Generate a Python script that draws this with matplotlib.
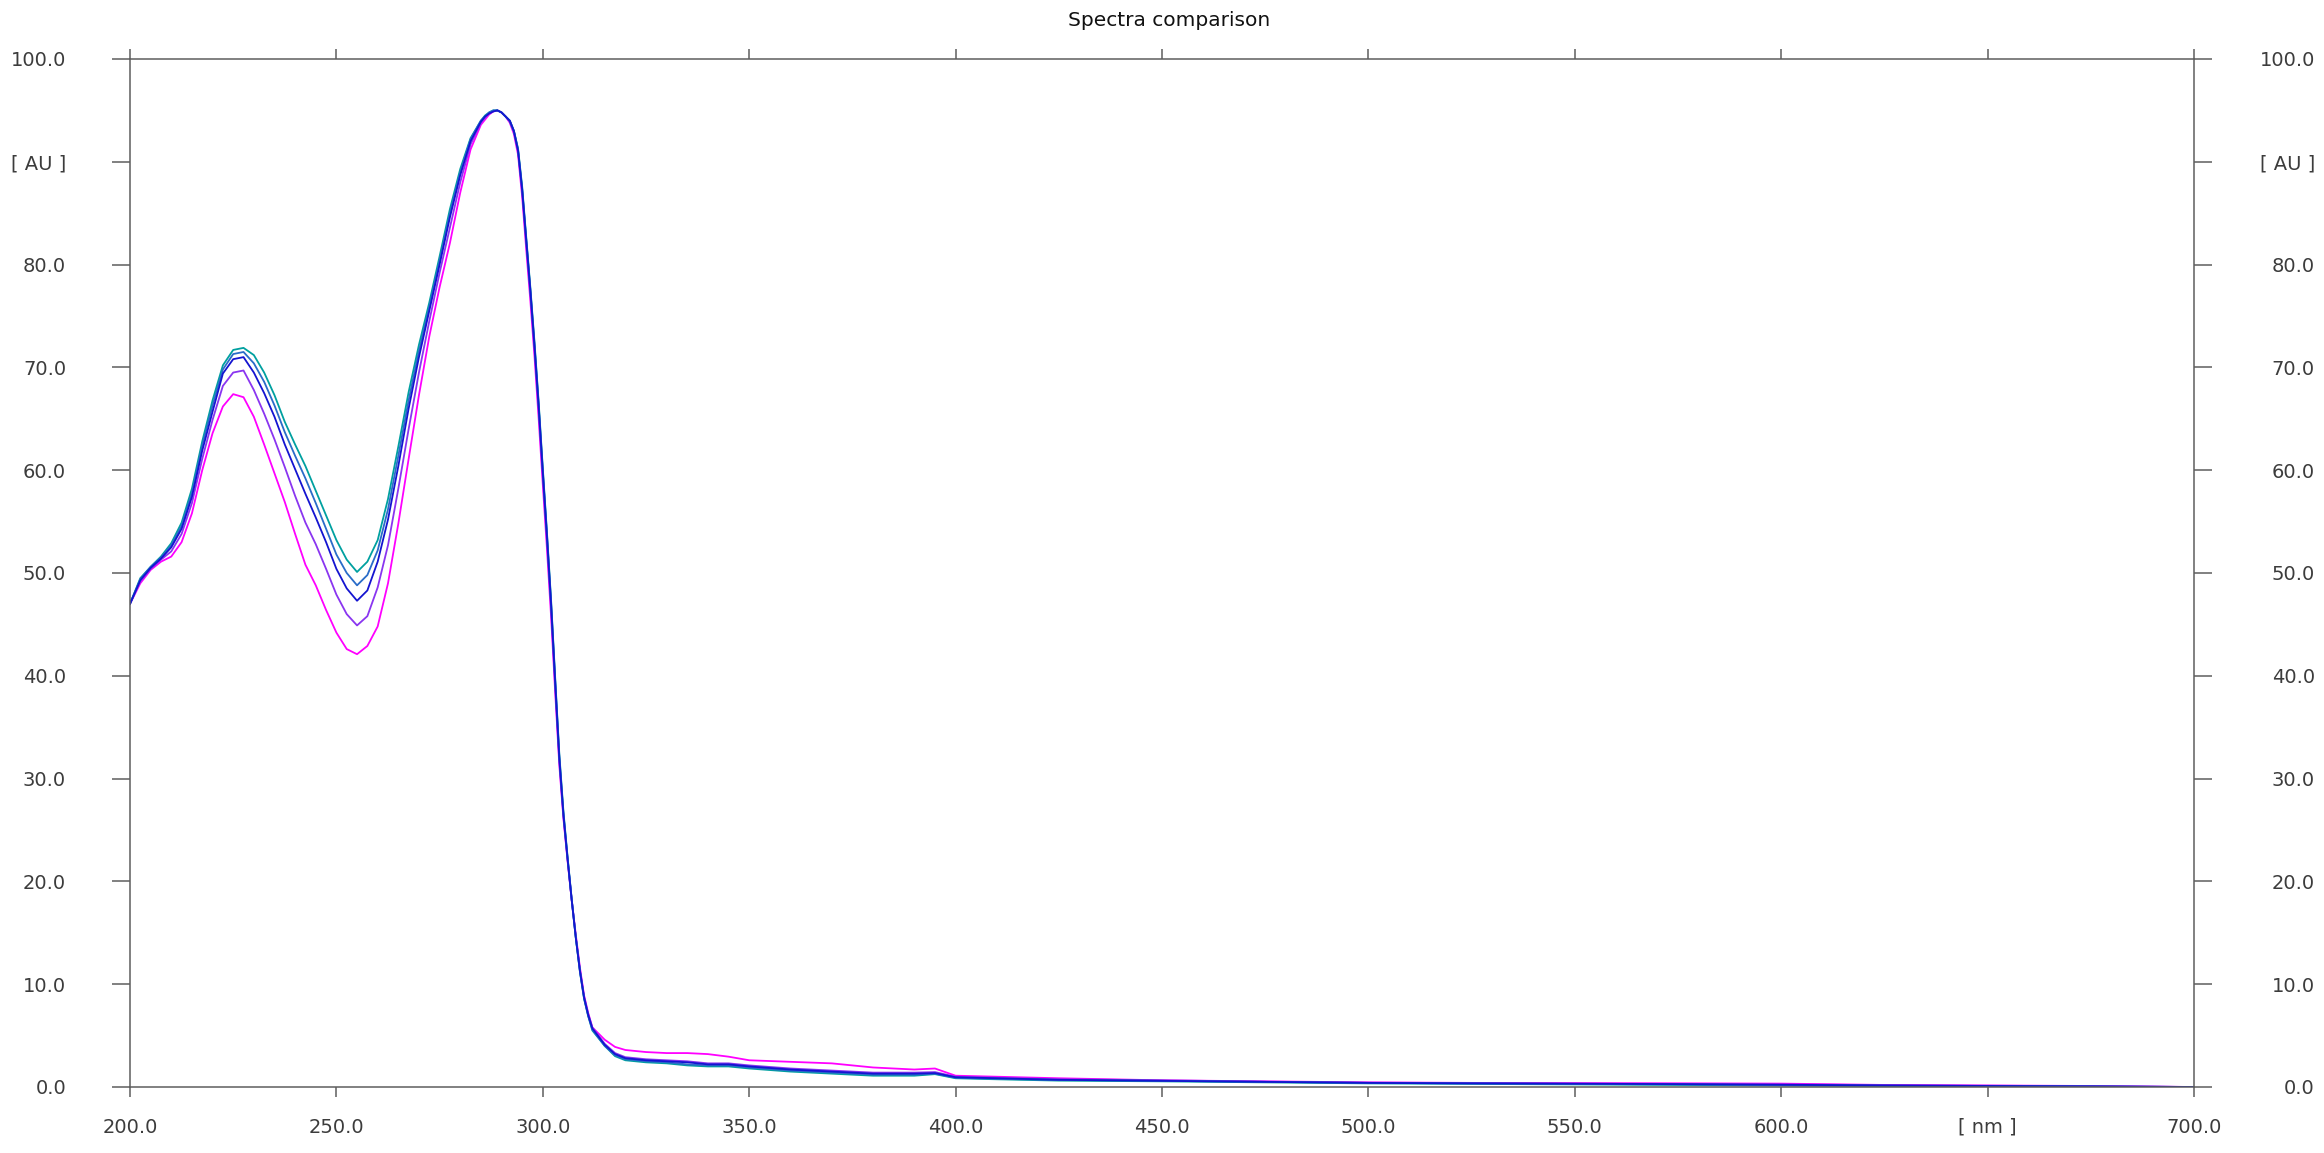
import matplotlib.pyplot as plt
from matplotlib.transforms import ScaledTranslation

# Wavelengths [nm] and absorbance [AU] for the five overlaid spectra

wavelength = [200, 202.5, 205, 207.5, 210, 212.5, 215, 217.5, 220, 222.5,
              225, 227.5, 230, 232.5, 235, 237.5, 240, 242.5, 245, 247.5,
              250, 252.5, 255, 257.5, 260, 262.5, 265, 267.5, 270, 272.5,
              275, 277.5, 280, 282.5, 285,
              286, 287, 288, 289, 290, 291, 292, 293, 294, 295, 296, 297, 298, 299,
              300, 301, 302, 303, 304, 305, 306, 307, 308, 309, 310, 311, 312,
              315, 317.5, 320,
              325, 330, 335, 340, 345, 350, 360, 370, 380, 390, 395, 400,
              410, 425, 450, 475, 500, 525, 550, 575, 600, 625, 650, 675, 700]

teal = [47.0, 49.5, 50.6, 51.6, 52.9, 54.9, 58.2, 62.8, 66.8, 70.2,
        71.7, 71.9, 71.2, 69.5, 67.3, 64.7, 62.5, 60.4, 58.0, 55.6,
        53.2, 51.3, 50.1, 51.1, 53.2, 57.2, 62.3, 67.6, 72.2, 76.3,
        80.8, 85.4, 89.3, 92.3, 94.0,
        94.5, 94.8, 95.0, 95.0, 94.8, 94.4, 94.0, 93.0, 91.3, 87.6, 82.6, 77.7, 72.4, 66.6,
        60.2, 54.0, 47.4, 39.8, 32.4, 26.8, 22.4, 18.3, 14.5, 11.2, 8.6, 6.9, 5.5,
        4.0, 3.0, 2.6,
        2.4, 2.3, 2.1, 2.0, 2.0, 1.8, 1.5, 1.3, 1.1, 1.1, 1.25, 0.85,
        0.75, 0.62, 0.55, 0.45, 0.35, 0.3, 0.25, 0.2, 0.15, 0.1, 0.05, 0.02, 0.0]

steel = [47.0, 49.4, 50.6, 51.5, 52.7, 54.6, 57.8, 62.4, 66.3, 69.8,
         71.3, 71.5, 70.4, 68.6, 66.3, 63.7, 61.4, 59.2, 56.8, 54.3,
         51.8, 50.0, 48.8, 49.8, 52.2, 56.2, 61.4, 66.8, 71.6, 75.9,
         80.4, 85.0, 89.0, 92.2, 94.0,
         94.4, 94.8, 95.0, 95.0, 94.8, 94.4, 94.0, 93.0, 91.2, 87.4, 82.4, 77.5, 72.2, 66.4,
         60.0, 53.8, 47.2, 39.6, 32.2, 26.6, 22.3, 18.2, 14.5, 11.2, 8.6, 6.9, 5.6,
         4.0, 3.1, 2.7,
         2.5, 2.4, 2.2, 2.1, 2.1, 1.9, 1.6, 1.4, 1.2, 1.2, 1.3, 0.9,
         0.8, 0.68, 0.6, 0.5, 0.4, 0.35, 0.3, 0.25, 0.18, 0.12, 0.08, 0.05, 0.0]

blue = [47.0, 49.3, 50.5, 51.4, 52.5, 54.3, 57.4, 61.9, 65.7, 69.4,
        70.8, 71.0, 69.5, 67.5, 65.2, 62.5, 60.1, 57.7, 55.4, 53.0,
        50.4, 48.5, 47.3, 48.3, 51.1, 55.2, 60.4, 66.0, 71.0, 75.5,
        80.0, 84.6, 88.7, 92.0, 93.9,
        94.4, 94.7, 94.9, 95.0, 94.8, 94.4, 94.0, 93.0, 91.1, 87.3, 82.3, 77.4, 72.0, 66.2,
        59.8, 53.6, 47.0, 39.4, 32.0, 26.5, 22.2, 18.2, 14.5, 11.3, 8.7, 7.0, 5.7,
        4.1, 3.2, 2.8,
        2.6, 2.5, 2.4, 2.2, 2.2, 2.0, 1.7, 1.5, 1.3, 1.3, 1.35, 0.95,
        0.85, 0.7, 0.6, 0.5, 0.4, 0.35, 0.32, 0.28, 0.22, 0.15, 0.1, 0.06, 0.0]

violet = [47.0, 49.2, 50.4, 51.3, 52.1, 53.8, 56.8, 61.1, 64.9, 68.2,
          69.5, 69.7, 67.8, 65.5, 63.0, 60.3, 57.5, 54.9, 52.8, 50.4,
          47.9, 46.0, 44.9, 45.8, 48.6, 52.7, 58.2, 64.0, 69.5, 74.5,
          79.2, 83.6, 88.0, 91.7, 93.8,
          94.3, 94.7, 94.9, 95.0, 94.8, 94.4, 93.9, 92.9, 91.0, 87.1, 82.0, 77.1, 71.7, 65.8,
          59.4, 53.2, 46.6, 39.0, 31.7, 26.3, 22.1, 18.2, 14.6, 11.4, 8.8, 7.1, 5.8,
          4.2, 3.3, 2.9,
          2.7, 2.6, 2.5, 2.3, 2.3, 2.1, 1.8, 1.6, 1.4, 1.4, 1.45, 1.0,
          0.9, 0.75, 0.65, 0.52, 0.42, 0.38, 0.33, 0.3, 0.25, 0.18, 0.12, 0.08, 0.0]

magenta = [47.0, 49.0, 50.3, 51.1, 51.6, 53.0, 55.8, 60.0, 63.6, 66.2,
           67.4, 67.1, 65.2, 62.5, 59.7, 56.9, 53.8, 50.8, 48.8, 46.4,
           44.2, 42.6, 42.1, 42.9, 44.8, 49.0, 54.8, 61.1, 67.3, 73.0,
           77.8, 82.1, 87.0, 91.2, 93.6,
           94.1, 94.6, 94.9, 95.0, 94.8, 94.4, 93.8, 92.7, 90.7, 86.6, 81.4, 76.4, 71.0, 65.0,
           58.6, 52.4, 45.8, 38.4, 31.3, 26.1, 22.0, 18.2, 14.8, 11.6, 8.9, 7.2, 5.8,
           4.6, 3.9, 3.6,
           3.4, 3.3, 3.3, 3.2, 2.95, 2.6, 2.45, 2.3, 1.9, 1.7, 1.8, 1.1,
           1.0, 0.85, 0.65, 0.55, 0.45, 0.4, 0.38, 0.36, 0.33, 0.2, 0.15, 0.1, 0.0]

x_ticks = [200, 250, 300, 350, 400, 450, 500, 550, 600, 650, 700]
x_labels = ['200.0', '250.0', '300.0', '350.0', '400.0', '450.0', '500.0',
            '550.0', '600.0', '[ nm ]', '700.0']
y_ticks = [0, 10, 20, 30, 40, 50, 60, 70, 80, 90, 100]
y_labels = ['0.0', '10.0', '20.0', '30.0', '40.0', '50.0', '60.0', '70.0',
            '80.0', '[ AU ]', '100.0']

plt.rcParams['font.family'] = 'DejaVu Sans'

fig = plt.figure(figsize=(23.24, 11.53), dpi=100)
ax = fig.add_axes([130 / 2324, 1 - 1087 / 1153, 2064 / 2324, 1028 / 1153])

# Draw the spectra (magenta first, the blues on top)
ax.plot(wavelength, magenta, color='#ff00ff', lw=1.3)
ax.plot(wavelength, violet, color='#8a35f0', lw=1.3)
ax.plot(wavelength, teal, color='#00a0a0', lw=1.3)
ax.plot(wavelength, steel, color='#2a6cc8', lw=1.3)
ax.plot(wavelength, blue, color='#1414d0', lw=1.3)

ax.set_xlim(200, 700)
ax.set_ylim(0, 100)
ax.set_xticks(x_ticks)
ax.set_xticklabels(x_labels)
ax.set_yticks(y_ticks)
ax.set_yticklabels(y_labels)

axis_grey = '#5e5e5e'
text_grey = '#3c3c3c'
for s in ax.spines.values():
    s.set_color(axis_grey)
    s.set_linewidth(1.1)

ax.tick_params(axis='x', direction='out', length=7.2, width=1.1, color=axis_grey,
               top=True, labeltop=False, pad=15, labelsize=14, labelcolor=text_grey)
ax.tick_params(axis='y', direction='out', length=13, width=1.1, color=axis_grey,
               right=True, labelright=True, pad=33, labelsize=14, labelcolor=text_grey)

# Right-hand labels are right aligned like the left ones
shift = ScaledTranslation(57 / 100, 0, fig.dpi_scale_trans)
for t in ax.yaxis.get_major_ticks():
    t.label2.set_horizontalalignment('right')
    t.label2.set_transform(t.label2.get_transform() + shift)

fig.text(0.503, 1 - 20 / 1153, 'Spectra comparison', ha='center', va='center',
         fontsize=14.5, color='#111111')

fig.savefig('out.png', dpi=100)
